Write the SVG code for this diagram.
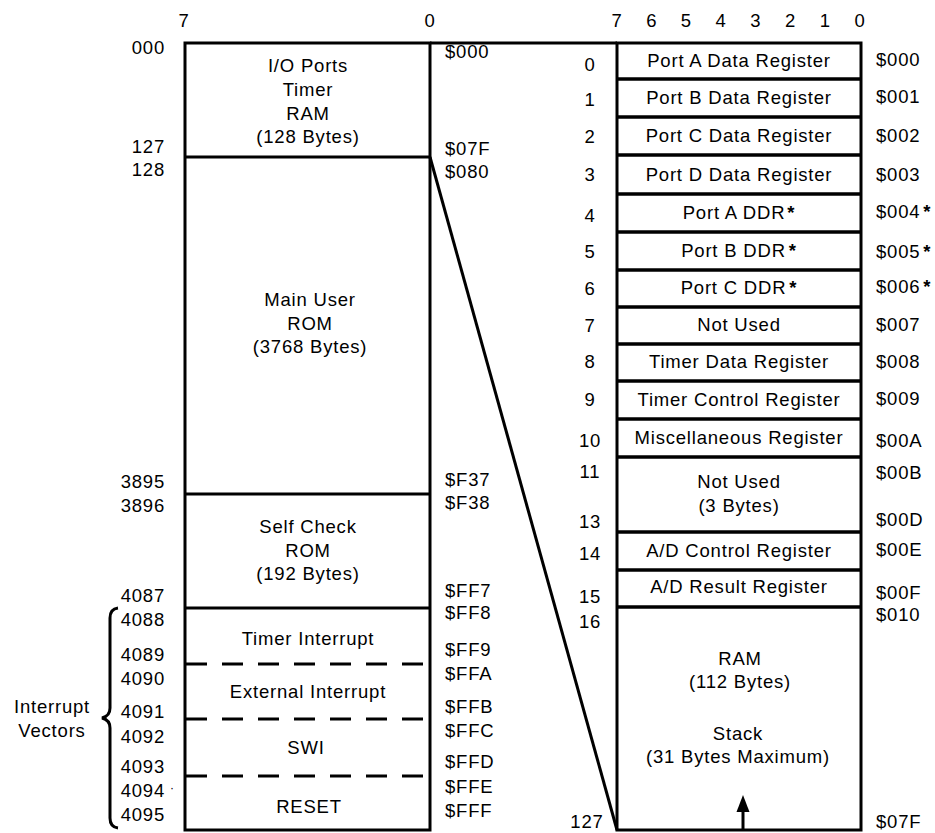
<svg xmlns="http://www.w3.org/2000/svg" width="935" height="833" viewBox="0 0 935 833">
<style>
text{font-family:"Liberation Sans",Arial,sans-serif;font-size:18.5px;fill:#000;letter-spacing:0.8px}
.c{text-anchor:middle}
.r{text-anchor:end}
.box{fill:none;stroke:#000;stroke-width:3}
.ln{stroke:#000;stroke-width:3;fill:none}
.sep{stroke:#000;stroke-width:3.5;fill:none}
.dash{stroke:#000;stroke-width:3;stroke-dasharray:21 15;fill:none}
.b{font-weight:bold}
</style>
<rect width="935" height="833" fill="#fff"/>

<g id="bit-labels">
<text class="c" x="184" y="27">7</text>
<text class="c" x="430" y="27">0</text>
<text class="c" x="617" y="27">7</text>
<text class="c" x="651.7" y="27">6</text>
<text class="c" x="686.4" y="27">5</text>
<text class="c" x="721.1" y="27">4</text>
<text class="c" x="755.8" y="27">3</text>
<text class="c" x="790.5" y="27">2</text>
<text class="c" x="825.2" y="27">1</text>
<text class="c" x="860" y="27">0</text>
</g>

<!-- Left memory map -->
<g id="left-map">
<rect class="box" x="185" y="43" width="245" height="787"/>
</g>
<g id="io-ram">
<text class="c" x="308" y="72">I/O Ports</text>
<text class="c" x="308" y="96">Timer</text>
<text class="c" x="308" y="120">RAM</text>
<text class="c" x="308" y="143">(128 Bytes)</text>
<text class="r" x="165" y="54">000</text>
<text class="r" x="165" y="153">127</text>
<text x="445" y="58">$000</text>
<text x="445" y="155">$07F</text>
</g>
<g id="main-rom">
<line class="ln" x1="185" y1="157" x2="430" y2="157"/>
<text class="c" x="310" y="306">Main User</text>
<text class="c" x="310" y="330">ROM</text>
<text class="c" x="310" y="353">(3768 Bytes)</text>
<text class="r" x="165" y="176">128</text>
<text class="r" x="165" y="488">3895</text>
<text x="445" y="178">$080</text>
<text x="445" y="486">$F37</text>
</g>
<g id="self-check-rom">
<line class="ln" x1="185" y1="494" x2="430" y2="494"/>
<text class="c" x="308" y="533">Self Check</text>
<text class="c" x="308" y="557">ROM</text>
<text class="c" x="308" y="580">(192 Bytes)</text>
<text class="r" x="165" y="512">3896</text>
<text class="r" x="165" y="602">4087</text>
<text x="445" y="509">$F38</text>
<text x="445" y="597">$FF7</text>
</g>
<g id="timer-interrupt">
<line class="ln" x1="185" y1="608" x2="430" y2="608"/>
<text class="c" x="308" y="645">Timer Interrupt</text>
<text class="r" x="165" y="626">4088</text>
<text class="r" x="165" y="661">4089</text>
<text x="445" y="619">$FF8</text>
<text x="445" y="656">$FF9</text>
</g>
<g id="external-interrupt">
<line class="dash" x1="186" y1="664" x2="430" y2="664"/>
<text class="c" x="308" y="698">External Interrupt</text>
<text class="r" x="165" y="685">4090</text>
<text class="r" x="165" y="718">4091</text>
<text x="445" y="680">$FFA</text>
<text x="445" y="713">$FFB</text>
</g>
<g id="swi">
<line class="dash" x1="186" y1="719" x2="430" y2="719"/>
<text class="c" x="306" y="754">SWI</text>
<text class="r" x="165" y="743">4092</text>
<text class="r" x="165" y="773">4093</text>
<text x="445" y="737">$FFC</text>
<text x="445" y="768">$FFD</text>
</g>
<g id="reset">
<line class="dash" x1="186" y1="776" x2="430" y2="776"/>
<text class="c" x="309" y="813">RESET</text>
<text class="r" x="165" y="797">4094</text>
<text x="170" y="792" style="font-size:12px">·</text>
<text class="r" x="165" y="821">4095</text>
<text x="445" y="793">$FFE</text>
<text x="445" y="817">$FFF</text>
</g>
<g id="interrupt-vectors">
<path class="ln" d="M118,608 Q110,609 110,618 L110,708 Q110,716 102,718 Q110,720 110,728 L110,818 Q110,827 118,828"/>
<text class="c" x="52" y="713">Interrupt</text>
<text class="c" x="52" y="737">Vectors</text>
</g>

<!-- Right register map -->
<g id="right-map">
<rect class="box" x="617" y="43" width="244" height="787"/>
</g>
<g id="reg-0"><text class="c" x="739" y="67">Port A Data Register</text><text class="c" x="590" y="71">0</text><text x="876" y="66">$000</text></g>
<g id="reg-1"><line class="sep" x1="617" y1="79" x2="861" y2="79"/><text class="c" x="739" y="104">Port B Data Register</text><text class="c" x="590" y="106">1</text><text x="876" y="103">$001</text></g>
<g id="reg-2"><line class="sep" x1="617" y1="117" x2="861" y2="117"/><text class="c" x="739" y="142">Port C Data Register</text><text class="c" x="590" y="143">2</text><text x="876" y="142">$002</text></g>
<g id="reg-3"><line class="sep" x1="617" y1="155" x2="861" y2="155"/><text class="c" x="739" y="181">Port D Data Register</text><text class="c" x="590" y="181">3</text><text x="876" y="181">$003</text></g>
<g id="reg-4"><line class="sep" x1="617" y1="194" x2="861" y2="194"/><text class="c" x="739" y="219">Port A DDR<tspan class="b" dx="2">*</tspan></text><text class="c" x="590" y="222">4</text><text x="876" y="218">$004<tspan class="b" dx="3">*</tspan></text></g>
<g id="reg-5"><line class="sep" x1="617" y1="232" x2="861" y2="232"/><text class="c" x="739" y="257">Port B DDR<tspan class="b" dx="3">*</tspan></text><text class="c" x="590" y="258">5</text><text x="876" y="258">$005<tspan class="b" dx="3">*</tspan></text></g>
<g id="reg-6"><line class="sep" x1="617" y1="270" x2="861" y2="270"/><text class="c" x="739" y="294">Port C DDR<tspan class="b" dx="3">*</tspan></text><text class="c" x="590" y="295">6</text><text x="876" y="293">$006<tspan class="b" dx="3">*</tspan></text></g>
<g id="reg-7"><line class="sep" x1="617" y1="307" x2="861" y2="307"/><text class="c" x="739" y="331">Not Used</text><text class="c" x="590" y="332">7</text><text x="876" y="331">$007</text></g>
<g id="reg-8"><line class="sep" x1="617" y1="344" x2="861" y2="344"/><text class="c" x="739" y="368">Timer Data Register</text><text class="c" x="590" y="368">8</text><text x="876" y="368">$008</text></g>
<g id="reg-9"><line class="sep" x1="617" y1="381" x2="861" y2="381"/><text class="c" x="739" y="406">Timer Control Register</text><text class="c" x="590" y="406">9</text><text x="876" y="405">$009</text></g>
<g id="reg-10"><line class="sep" x1="617" y1="419" x2="861" y2="419"/><text class="c" x="739" y="444">Miscellaneous Register</text><text class="c" x="590" y="447">10</text><text x="876" y="447">$00A</text></g>
<g id="reg-11-13"><line class="sep" x1="617" y1="457" x2="861" y2="457"/><text class="c" x="739" y="488">Not Used</text><text class="c" x="739" y="512">(3 Bytes)</text><text class="c" x="590" y="478">11</text><text class="c" x="590" y="528">13</text><text x="876" y="479">$00B</text><text x="876" y="526">$00D</text></g>
<g id="reg-14"><line class="sep" x1="617" y1="532" x2="861" y2="532"/><text class="c" x="739" y="557">A/D Control Register</text><text class="c" x="590" y="560">14</text><text x="876" y="556">$00E</text></g>
<g id="reg-15"><line class="sep" x1="617" y1="570" x2="861" y2="570"/><text class="c" x="739" y="593">A/D Result Register</text><text class="c" x="590" y="603">15</text><text x="876" y="599">$00F</text></g>
<g id="ram-stack"><line class="sep" x1="617" y1="607" x2="861" y2="607"/>
<text class="c" x="740" y="665">RAM</text>
<text class="c" x="740" y="688">(112 Bytes)</text>
<text class="c" x="738" y="740">Stack</text>
<text class="c" x="738" y="763">(31 Bytes Maximum)</text>
<text class="c" x="590" y="628">16</text><text class="c" x="587" y="828">127</text>
<text x="876" y="621">$010</text><text x="876" y="828">$07F</text>
<line class="ln" x1="743" y1="830" x2="743" y2="808"/>
<path d="M743,795 L736.5,812 L749.5,812 Z" fill="#000"/>
</g>

<g id="connectors">
<line class="ln" x1="430" y1="43" x2="617" y2="43"/>
<line class="ln" x1="430" y1="157" x2="617" y2="830"/>
</g>
</svg>
